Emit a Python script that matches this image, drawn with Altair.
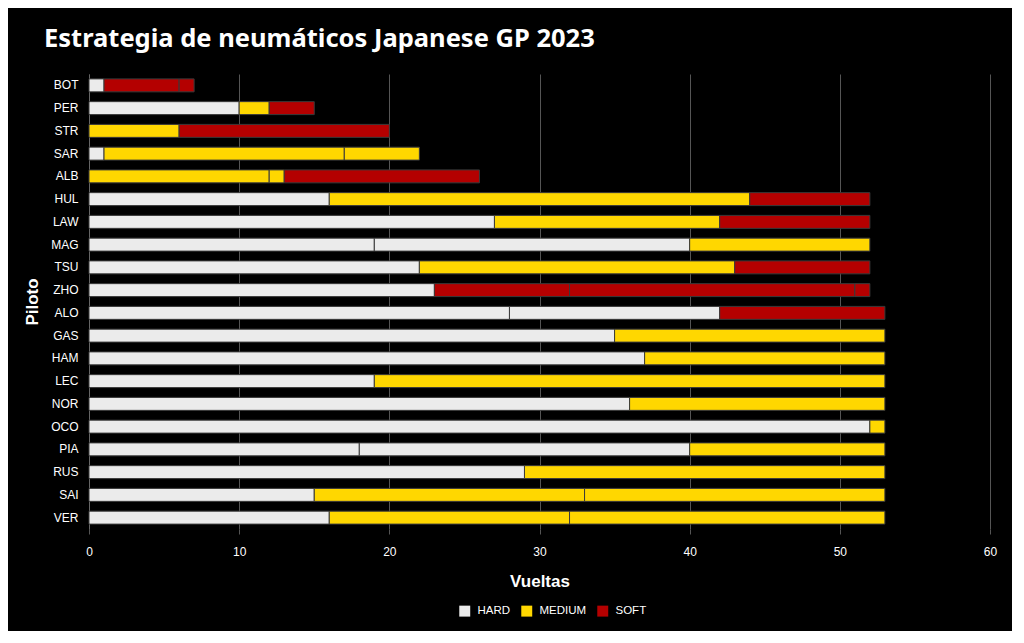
import altair as alt
import pandas as pd

drivers = ["BOT", "PER", "STR", "SAR", "ALB", "HUL", "LAW", "MAG", "TSU", "ZHO",
           "ALO", "GAS", "HAM", "LEC", "NOR", "OCO", "PIA", "RUS", "SAI", "VER"]

stint_laps = [
    [1, 5, 1],
    [10, 2, 3],
    [6, 14],
    [1, 16, 5],
    [12, 1, 13],
    [16, 28, 8],
    [27, 15, 10],
    [19, 21, 12],
    [22, 21, 9],
    [23, 9, 19, 1],
    [28, 14, 11],
    [35, 18],
    [37, 16],
    [19, 34],
    [36, 17],
    [52, 1],
    [18, 22, 13],
    [29, 24],
    [15, 18, 20],
    [16, 16, 21],
]

stint_compounds = [
    ["HARD", "SOFT", "SOFT"],
    ["HARD", "MEDIUM", "SOFT"],
    ["MEDIUM", "SOFT"],
    ["HARD", "MEDIUM", "MEDIUM"],
    ["MEDIUM", "MEDIUM", "SOFT"],
    ["HARD", "MEDIUM", "SOFT"],
    ["HARD", "MEDIUM", "SOFT"],
    ["HARD", "HARD", "MEDIUM"],
    ["HARD", "MEDIUM", "SOFT"],
    ["HARD", "SOFT", "SOFT", "SOFT"],
    ["HARD", "HARD", "SOFT"],
    ["HARD", "MEDIUM"],
    ["HARD", "MEDIUM"],
    ["HARD", "MEDIUM"],
    ["HARD", "MEDIUM"],
    ["HARD", "MEDIUM"],
    ["HARD", "HARD", "MEDIUM"],
    ["HARD", "MEDIUM"],
    ["HARD", "MEDIUM", "MEDIUM"],
    ["HARD", "MEDIUM", "MEDIUM"],
]

compound_names = ["HARD", "MEDIUM", "SOFT"]
compound_colors = ["#EBEBEB", "#FFD700", "#B40000"]

rows = []
for d, laps, comps in zip(drivers, stint_laps, stint_compounds):
    start = 0
    for n, c in zip(laps, comps):
        rows.append({"Driver": d, "Compound": c, "start": start, "end": start + n})
        start += n
df = pd.DataFrame(rows)

chart = alt.Chart(df).mark_bar(stroke="#3a3a3a", strokeWidth=1).encode(
    y=alt.Y("Driver:N", sort=drivers, title="Piloto",
            scale=alt.Scale(paddingInner=0.43, paddingOuter=0.215),
            axis=alt.Axis(labelColor="#ffffff", labelFontSize=12, labelFont="Liberation Sans",
                          titleColor="#ffffff", titleFontSize=17, titleFont="Liberation Sans",
                          titleFontWeight="bold", titlePadding=9,
                          domain=True, domainColor="#666666", ticks=False,
                          labelPadding=11, grid=False)),
    x=alt.X("start:Q", title="Vueltas",
            scale=alt.Scale(domain=[0, 60], nice=False),
            axis=alt.Axis(values=[0, 10, 20, 30, 40, 50, 60], labelColor="#ffffff",
                          labelFontSize=12, labelFont="Liberation Sans", labelFlush=False,
                          titleColor="#ffffff", titleFontSize=17, titleFont="Liberation Sans",
                          titleFontWeight="bold", titlePadding=16,
                          grid=True, gridColor="#555555", gridWidth=1,
                          domain=False, tickColor="#555555", tickSize=5, labelPadding=12)),
    x2="end:Q",
    color=alt.Color("Compound:N",
                    scale=alt.Scale(domain=compound_names, range=compound_colors),
                    legend=alt.Legend(orient="none", legendX=289, legendY=531,
                                      direction="horizontal",
                                      titleOrient="left", titleColor="#000000",
                                      titleFontSize=12, titleFontWeight="normal",
                                      titleFont="Liberation Sans",
                                      labelColor="#ffffff", labelFontSize=11.5,
                                      labelFont="Liberation Sans", labelOffset=7,
                                      symbolType="square", symbolSize=120,
                                      symbolStrokeWidth=0, columnPadding=10,
                                      titlePadding=22)),
).properties(
    width=901,
    height=455,
    autosize=alt.AutoSizeParams(type="none"),
    padding={"left": 81, "top": 66, "right": 22, "bottom": 102},
    background="#000000",
    title=alt.TitleParams("Estrategia de neumáticos Japanese GP 2023", anchor="start",
                          frame="group", color="#ffffff", font="Noto Sans",
                          fontSize=25.5, fontWeight="bold", dx=-45, offset=22),
).configure_view(stroke=None)

chart.save("out.html", embed_options={"renderer": "svg", "actions": False})
